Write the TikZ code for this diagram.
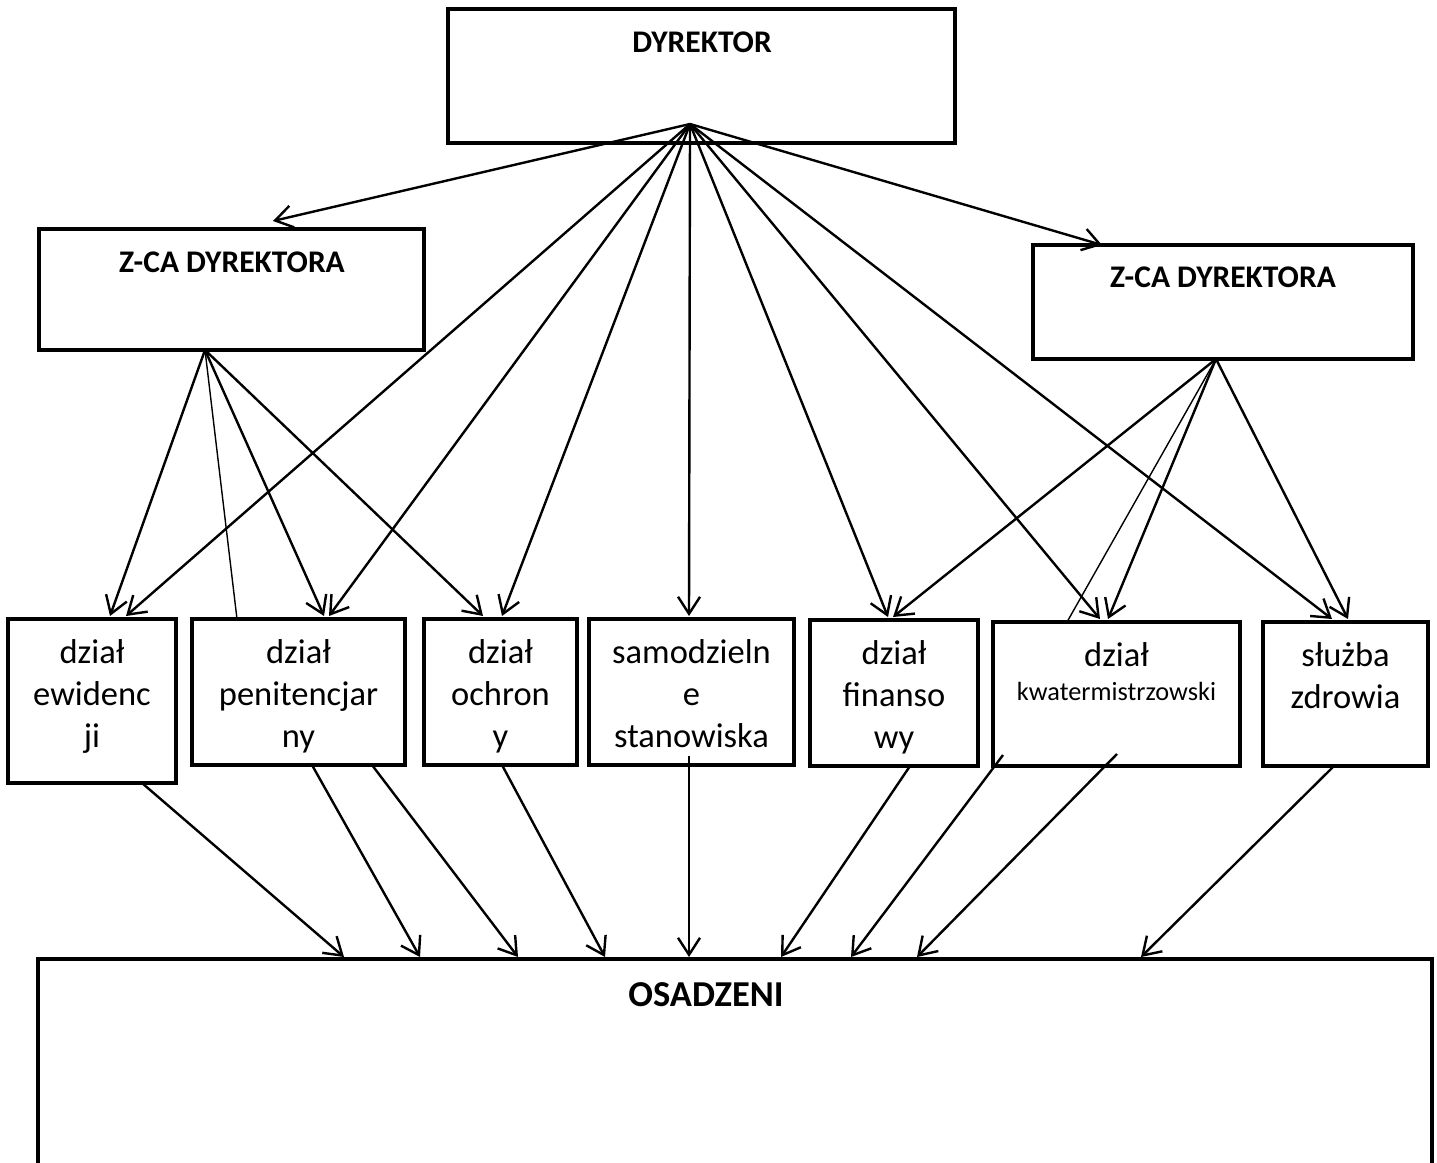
\documentclass[tikz,border=0pt]{standalone}
\usepackage{fontspec}
\setmainfont{Carlito}
\usetikzlibrary{arrows.meta}

\tikzset{
  box/.style={draw, line width=3.5pt, inner sep=0pt, outer sep=0pt, anchor=north west},
  arr/.style={line width=2.4pt, -{Straight Barb[length=17pt,width=22pt]}},
  fine/.style={line width=1.4pt},
  head/.style={anchor=base, inner sep=0pt, font=\fontsize{31.5}{38}\selectfont\bfseries},
  txt/.style={anchor=base, inner sep=0pt, text width=200pt, align=center, font=\fontsize{34.5}{42}\selectfont},
}

\begin{document}
\begin{tikzpicture}[x=1pt,y=-1pt]
\useasboundingbox (0,0) rectangle (1437,1162);
\clip (0,0) rectangle (1437,1162);
% boxes
\node[box, minimum width=507pt, minimum height=134pt] (dyr) at (448,9) {};
\node[box, minimum width=385pt, minimum height=121pt] (zl) at (39,229) {};
\node[box, minimum width=380pt, minimum height=114pt] (zr) at (1033,245) {};
\node[box, minimum width=168pt, minimum height=164pt] (ewid) at (8,619) {};
\node[box, minimum width=213pt, minimum height=146pt] (peni) at (192,619) {};
\node[box, minimum width=153pt, minimum height=146pt] (ochr) at (424,619) {};
\node[box, minimum width=205pt, minimum height=146pt] (samo) at (589,619) {};
\node[box, minimum width=168pt, minimum height=146pt] (fin) at (810,620) {};
\node[box, minimum width=247pt, minimum height=144pt] (kwat) at (993,622) {};
\node[box, minimum width=165pt, minimum height=144pt] (zdro) at (1263,622) {};
\node[box, minimum width=1394pt, minimum height=300pt] (osa) at (38,959) {};
% texts
\node[head] (dyrt) at (702,52) {DYREKTOR};
\node[head] (zlt) at (232,272) {Z-CA DYREKTORA};
\node[head] (zrt) at (1223,287) {Z-CA DYREKTORA};
\node[head, font=\fontsize{36.5}{44}\selectfont\bfseries] (osat) at (706,1006) {OSADZENI};
\node[txt] (ewidt) at (92,663) {dział\\ewidenc\\ji};
\node[txt] (penit) at (298.5,663) {dział\\penitencjar\\ny};
\node[txt] (ochrt) at (500.5,663) {dział\\ochron\\y};
\node[txt] (samot) at (691.5,663) {samodzieln\\e\\stanowiska};
\node[txt] (fint) at (894,664) {dział\\finanso\\wy};
\node[txt] (kwatt) at (1116.5,666) {dział\\[-8pt]{\fontsize{26.3}{34}\selectfont kwatermistrzowski}};
\node[txt] (zdrot) at (1345.5,666) {służba\\zdrowia};
% fan from the director
\coordinate (dsrc) at ([xshift=242pt,yshift=19pt]dyr.south west);
\draw[arr] (dsrc) -- ([xshift=234pt,yshift=8pt]zl.north west);
\draw[arr] (dsrc) -- ([xshift=69pt]zr.north west);
\foreach \n/\a in {ewid/118,peni/137,ochr/78,samo/100,fin/78,kwat/107,zdro/69}
  \draw[arr] (dsrc) -- ([xshift=\a pt,yshift=3pt]\n.north west);
% fans from the deputies
\coordinate (zlsrc) at ([xshift=166pt]zl.south west);
\coordinate (zrsrc) at ([xshift=183pt]zr.south west);
\foreach \n/\a in {ewid/102,peni/132,ochr/59}
  \draw[arr] (zlsrc) -- ([xshift=\a pt,yshift=3pt]\n.north west);
\foreach \n/\a in {fin/83,kwat/115,zdro/85}
  \draw[arr] (zrsrc) -- ([xshift=\a pt,yshift=3pt]\n.north west);
\draw[fine] (zlsrc) -- ([xshift=45pt]peni.north west);
\draw[fine] (zrsrc) -- ([xshift=74pt]kwat.north west);
% down to the inmates
\foreach \n/\a/\u/\b in {ewid/134/0/306, peni/120/0/382, peni/180/0/480, ochr/78/0/567,
    samo/100/9/651, fin/100/0/743, kwat/10/11/813, kwat/124/12/879, zdro/71/0/1103}
  \draw[arr] ([xshift=\a pt,yshift=\u pt]\n.south west) -- ([xshift=\b pt,yshift=2pt]osa.north west);
\end{tikzpicture}
\end{document}
